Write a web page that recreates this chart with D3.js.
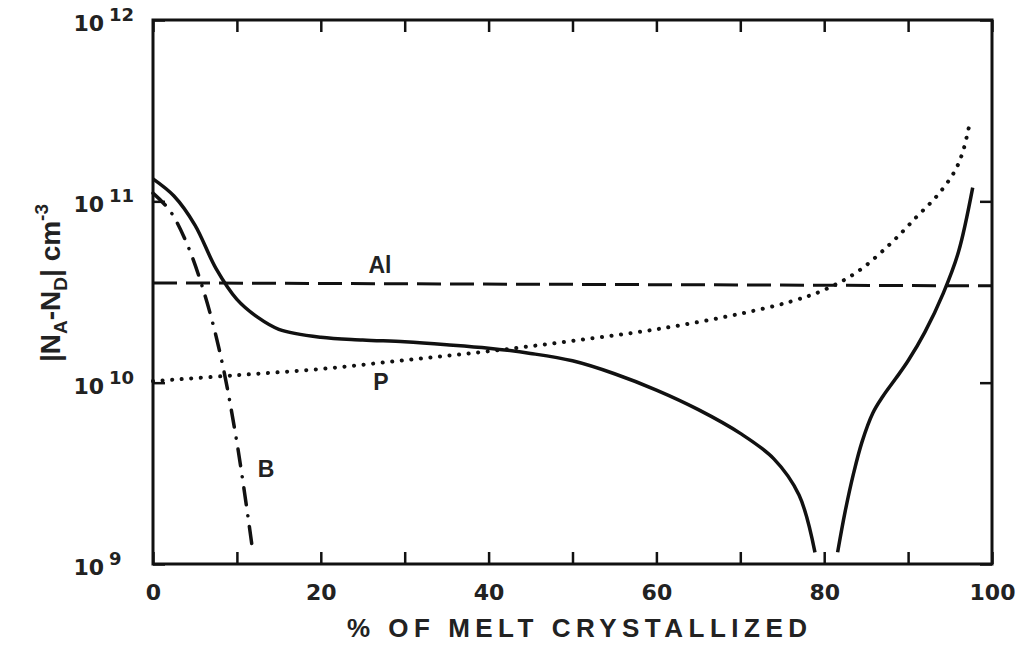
<!DOCTYPE html>
<html>
<head>
<meta charset="utf-8">
<script src="https://cdnjs.cloudflare.com/ajax/libs/d3/7.8.5/d3.min.js"></script>
<style>
  body { margin: 0; background: #fff; }
  .axis path.domain { display: none; }
  .axis .tick line { stroke: #111; stroke-width: 2.5; }
  .axis .tick text { font-family: "DejaVu Sans", sans-serif; font-weight: bold; font-size: 22px; fill: #222; }
  .num { font-family: "DejaVu Sans", sans-serif; font-weight: bold; fill: #222; }
  .label { font-family: "Liberation Sans", Arial, sans-serif; font-weight: bold; fill: #222; }
</style>
</head>
<body>
<div id="chart"></div>
<script>
var width = 1024;
var height = 645;

var margin = { "top": 20,
               "bottom": 81,
               "left": 153,
               "right": 32 };

var innerW = width - margin.left - margin.right;
var innerH = height - margin.top - margin.bottom;

// ---- data: [% of melt crystallized, |NA-ND| cm^-3] ----
var netLeft = [[0, 1.33e11], [2.5, 1.07e11], [5, 7.4e10], [7.5, 4.27e10], [10, 2.88e10],
               [12.5, 2.29e10], [15, 1.97e10], [20, 1.78e10], [25, 1.72e10], [30, 1.68e10],
               [35, 1.62e10], [40, 1.55e10], [45, 1.45e10], [50, 1.32e10], [55, 1.12e10],
               [60, 9.1e9], [65, 7.1e9], [70, 5.25e9], [74, 3.8e9], [77, 2.4e9], [78.9, 1.16e9]];

var netRight = [[81.6, 1.16e9], [82.5, 1.95e9], [83.5, 3.16e9], [84.5, 4.7e9], [85.8, 6.8e9],
                [87, 8.41e9], [88.5, 1.05e10], [90, 1.32e10], [92, 1.9e10], [94.2, 3.12e10],
                [96, 5.25e10], [97.7, 1.19e11]];

var aluminium = [[0, 3.55e10], [100, 3.42e10]];

var phosphorus = [[0, 1.02e10], [10, 1.10e10], [20, 1.19e10], [30, 1.33e10], [40, 1.49e10],
                  [50, 1.70e10], [60, 1.97e10], [70, 2.40e10], [76, 2.80e10], [80, 3.25e10],
                  [84, 4.1e10], [88, 5.9e10], [91, 8.2e10], [93.5, 1.08e11], [95.5, 1.45e11],
                  [96.5, 1.86e11], [97.3, 2.64e11]];

var boron = [[0, 1.11e11], [2, 8.9e10], [4, 5.9e10], [6, 3.24e10], [8, 1.45e10],
             [10, 4.68e9], [11.9, 1.17e9]];

var xTicks = [0, 10, 20, 30, 40, 50, 60, 70, 80, 90, 100];
var xTickLabels = [0, 20, 40, 60, 80, 100];
var yTicks = [1e9, 1e10, 1e11, 1e12];
var yTickExponents = ["9", "10", "11", "12"];

var svg = d3.select("#chart")
            .append("svg")
            .attr("width", width)
            .attr("height", height)
            .style("background", "#fff");

var g = svg.append("g")
           .attr("transform", "translate(" + margin.left + "," + margin.top + ")");

var scaleX = d3.scaleLinear().domain([0, 100]).range([0, innerW]);
var scaleY = d3.scaleLog().domain([1e9, 1e12]).range([innerH, 0]);

// ticks, all pointing inward
g.append("g")
  .attr("class", "axis")
  .attr("transform", "translate(0," + innerH + ")")
  .call(d3.axisBottom(scaleX)
          .tickValues(xTicks)
          .tickSizeInner(-12)
          .tickSizeOuter(0)
          .tickPadding(20)
          .tickFormat(function(d) { return xTickLabels.indexOf(d) >= 0 ? d : ""; }));

g.append("g")
  .attr("class", "axis")
  .call(d3.axisTop(scaleX)
          .tickValues(xTicks)
          .tickSizeInner(-12)
          .tickSizeOuter(0)
          .tickFormat(""));

g.append("g")
  .attr("class", "axis")
  .call(d3.axisLeft(scaleY)
          .tickValues(yTicks)
          .tickSizeInner(-12)
          .tickSizeOuter(0)
          .tickFormat(""));

g.append("g")
  .attr("class", "axis")
  .attr("transform", "translate(" + innerW + ",0)")
  .call(d3.axisRight(scaleY)
          .tickValues(yTicks)
          .tickSizeInner(-12)
          .tickSizeOuter(0)
          .tickFormat(""));

// y tick labels as 10 with superscript exponent
yTicks.forEach(function(d, i) {
  g.append("text")
    .attr("class", "num")
    .attr("x", -49)
    .attr("y", scaleY(d) + 11)
    .attr("text-anchor", "end")
    .style("font-size", "22px")
    .text("10");
  g.append("text")
    .attr("class", "num")
    .attr("x", -44)
    .attr("y", scaleY(d) + 1)
    .style("font-size", "18px")
    .text(yTickExponents[i]);
});

// frame
g.append("rect")
  .attr("x", 0)
  .attr("y", 0)
  .attr("width", innerW)
  .attr("height", innerH)
  .attr("fill", "none")
  .attr("stroke", "#111")
  .attr("stroke-width", 3);

var line = d3.line()
             .x(function(d) { return scaleX(d[0]); })
             .y(function(d) { return scaleY(d[1]); })
             .curve(d3.curveCatmullRom.alpha(0.5));

function drawCurve(data, dash, w, cap) {
  g.append("path")
    .datum(data)
    .attr("d", line)
    .attr("fill", "none")
    .attr("stroke", "#111")
    .attr("stroke-width", w)
    .attr("stroke-linecap", cap)
    .attr("stroke-dasharray", dash);
}

drawCurve(aluminium, "24 9", 3, "butt");
drawCurve(phosphorus, "0.1 9.5", 4, "round");
drawCurve(boron, "17 11 0.1 11", 3.5, "round");
drawCurve(netLeft, null, 3.5, "butt");
drawCurve(netRight, null, 3.5, "butt");

// curve labels
function curveLabel(txt, x, y) {
  svg.append("text")
    .attr("class", "label")
    .attr("x", x)
    .attr("y", y)
    .attr("text-anchor", "middle")
    .style("font-size", "23px")
    .text(txt);
}
curveLabel("Al", 380, 273);
curveLabel("P", 381, 390);
curveLabel("B", 266, 477);

// x axis title
svg.append("text")
  .attr("class", "label")
  .attr("x", 577)
  .attr("y", 637)
  .attr("text-anchor", "middle")
  .attr("textLength", 460)
  .attr("lengthAdjust", "spacing")
  .style("font-size", "26px")
  .text("% OF MELT CRYSTALLIZED");

// y axis title
var yTitle = svg.append("text")
  .attr("class", "label")
  .attr("transform", "translate(60,283) rotate(-90)")
  .attr("text-anchor", "middle")
  .style("font-size", "28px");
yTitle.append("tspan").text("|N");
yTitle.append("tspan").attr("dy", 7).style("font-size", "19px").text("A");
yTitle.append("tspan").attr("dy", -7).text("-N");
yTitle.append("tspan").attr("dy", 7).style("font-size", "19px").text("D");
yTitle.append("tspan").attr("dy", -7).text("| cm");
yTitle.append("tspan").attr("dy", -12).style("font-size", "19px").text("-3");
</script>
</body>
</html>
